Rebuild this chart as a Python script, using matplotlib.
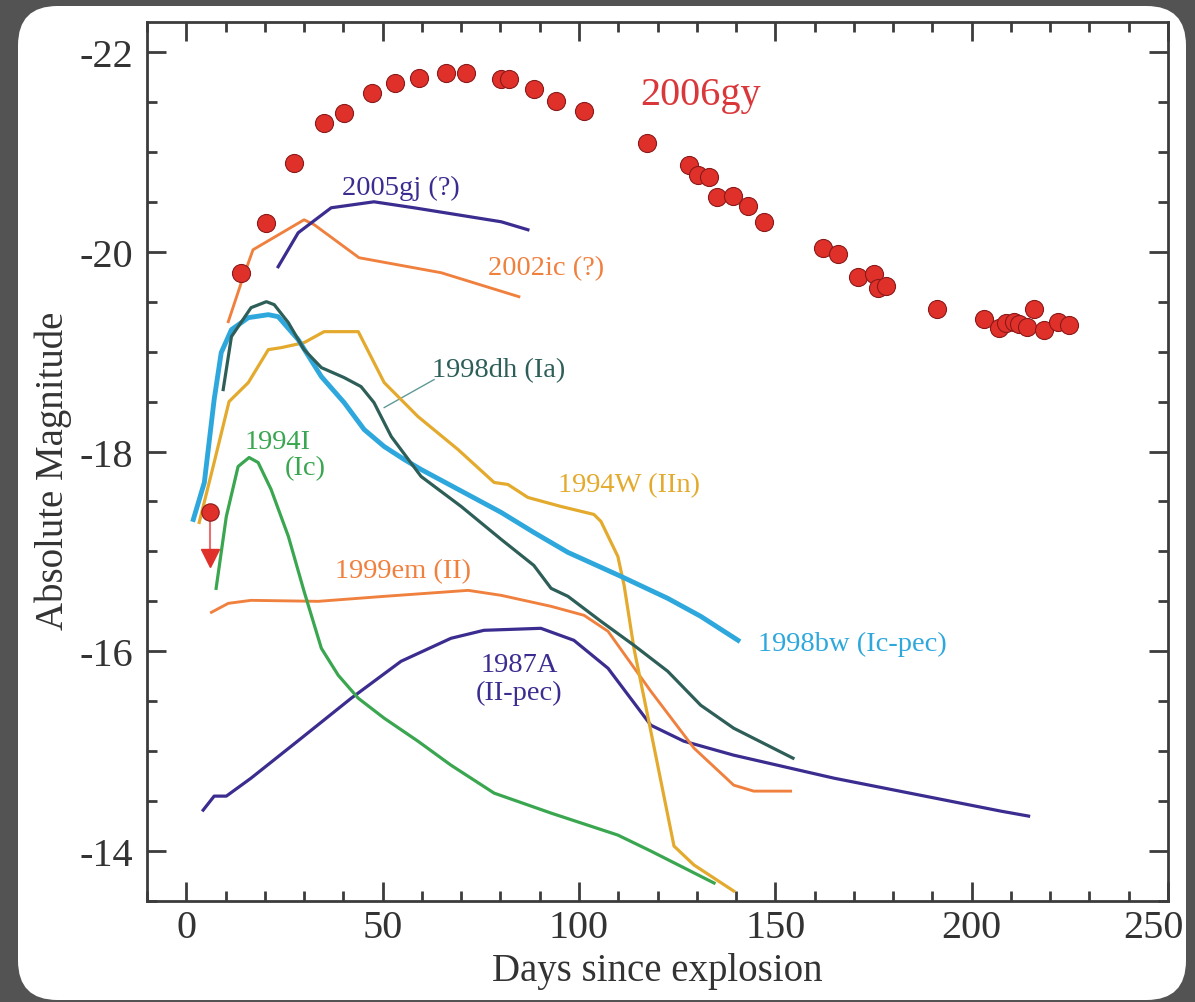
import matplotlib
matplotlib.use("Agg")
import matplotlib.pyplot as plt
import matplotlib.transforms as mtransforms
from matplotlib.patches import FancyBboxPatch
from matplotlib.ticker import MultipleLocator

# ---------------- data ----------------
sn2006gy_day = [14.0, 20.4, 27.5, 35.1, 40.2, 47.3, 53.2, 59.3, 66.2, 71.2, 80.2, 82.2,
                88.5, 94.1, 101.3, 117.3, 128.0, 130.3, 133.1, 135.1, 139.2, 143.0,
                147.1, 162.1, 165.9, 171.0, 175.1, 176.1, 178.1, 191.1, 203.1, 206.9,
                208.7, 210.7, 212.0, 214.2, 215.8, 218.3, 221.9, 224.7]
sn2006gy_mag = [-19.79, -20.29, -20.89, -21.29, -21.39, -21.59, -21.69, -21.74, -21.79,
                -21.79, -21.73, -21.73, -21.63, -21.51, -21.41, -21.09, -20.87, -20.77,
                -20.75, -20.55, -20.56, -20.46, -20.30, -20.04, -19.98, -19.75, -19.78,
                -19.64, -19.66, -19.43, -19.33, -19.24, -19.29, -19.30, -19.28, -19.25,
                -19.43, -19.22, -19.30, -19.27]
limit_day = 6.1
limit_mag = -17.39
limit_arrow_mag = -16.93

sn2005gj_day = [23.4, 28.5, 36.9, 47.8, 58.0, 80.2, 87.0]
sn2005gj_mag = [-19.85, -20.19, -20.44, -20.50, -20.44, -20.30, -20.22]

sn2002ic_day = [10.7, 14.0, 17.0, 30.0, 32.6, 44.0, 64.9, 84.7]
sn2002ic_mag = [-19.30, -19.69, -20.02, -20.32, -20.27, -19.94, -19.79, -19.55]

sn1998dh_day = [9.4, 11.5, 16.5, 20.4, 22.4, 26.0, 30.0, 34.4, 40.2, 44.5, 47.8, 52.2,
                59.8, 70.0, 80.2, 88.5, 92.9, 97.2, 105.6, 114.0, 122.6, 131.0, 139.4, 154.5]
sn1998dh_mag = [-18.62, -19.15, -19.44, -19.50, -19.47, -19.29, -19.02, -18.84, -18.74,
                -18.65, -18.49, -18.15, -17.75, -17.45, -17.12, -16.86, -16.63, -16.55,
                -16.30, -16.06, -15.80, -15.46, -15.23, -14.93]

sn1998bw_day = [1.8, 4.6, 7.1, 8.9, 11.5, 15.8, 20.9, 23.4, 28.5, 34.4, 40.2, 45.3, 50.4,
                55.5, 59.8, 80.2, 88.5, 97.2, 110.7, 122.6, 131.0, 140.5]
sn1998bw_mag = [-17.32, -17.69, -18.52, -18.99, -19.22, -19.34, -19.37, -19.35, -19.12,
                -18.75, -18.49, -18.22, -18.05, -17.92, -17.82, -17.39, -17.19, -16.99,
                -16.75, -16.53, -16.35, -16.11]

sn1994W_day = [3.3, 7.1, 10.9, 15.8, 20.9, 24.2, 30.0, 35.1, 43.8, 50.4, 59.0, 69.2, 78.4,
               81.9, 87.0, 95.4, 103.8, 105.6, 109.9, 111.5, 114.0, 118.3, 124.2, 129.3, 139.4]
sn1994W_mag = [-17.29, -17.89, -18.50, -18.69, -19.02, -19.04, -19.09, -19.20, -19.20,
               -18.69, -18.35, -18.02, -17.69, -17.67, -17.54, -17.45, -17.37, -17.30,
               -16.95, -16.66, -16.03, -15.20, -14.05, -13.86, -13.60]

sn1994I_day = [7.6, 10.2, 13.2, 16.0, 18.3, 21.6, 26.0, 30.0, 34.4, 38.7, 43.8, 50.4,
               59.0, 67.4, 78.4, 92.9, 109.9, 118.3, 134.4]
sn1994I_mag = [-16.63, -17.35, -17.85, -17.94, -17.89, -17.62, -17.15, -16.60, -16.03,
               -15.76, -15.53, -15.33, -15.10, -14.86, -14.58, -14.38, -14.16, -14.00, -13.68]

sn1999em_day = [6.4, 10.7, 16.5, 33.6, 50.4, 71.8, 80.2, 92.9, 101.3, 107.4, 118.3,
                129.3, 139.4, 144.5, 153.9]
sn1999em_mag = [-16.39, -16.48, -16.51, -16.50, -16.55, -16.61, -16.56, -16.45, -16.36,
                -16.20, -15.60, -15.03, -14.66, -14.60, -14.60]

sn1987A_day = [4.3, 7.1, 10.2, 16.5, 29.3, 42.0, 54.7, 67.4, 75.8, 90.3, 98.7, 107.4,
               118.3, 126.7, 139.4, 164.9, 207.4, 214.5]
sn1987A_mag = [-14.41, -14.55, -14.55, -14.73, -15.13, -15.53, -15.90, -16.13, -16.21,
               -16.23, -16.11, -15.83, -15.26, -15.10, -14.96, -14.73, -14.40, -14.35]

x_ticks = [0, 50, 100, 150, 200, 250]
y_ticks = [-22, -20, -18, -16, -14]

# ---------------- style ----------------
C_RED = "#e0302a"
C_INDIGO = "#3b2d90"
C_ORANGE = "#f0803e"
C_TEAL = "#2e5e58"
C_BLUE = "#2ea8dc"
C_GOLD = "#e3aa2e"
C_GREEN = "#3aa650"
SPINE = "#3c3c3c"
SERIF = ["Liberation Serif", "DejaVu Serif"]

plt.rcParams["font.family"] = SERIF

fig = plt.figure(figsize=(11.95, 10.03), dpi=100)
fig.patch.set_facecolor("#535353")

# white rounded card
card = FancyBboxPatch((18 / 1195, 2 / 1003), (1186 - 18) / 1195, (1003 - 7 - 2) / 1003,
                      boxstyle="round,pad=0,rounding_size=0.033",
                      transform=fig.transFigure, facecolor="white", edgecolor="none",
                      mutation_aspect=1195 / 1003, zorder=-5)
fig.patches.append(card)

ax = fig.add_axes([147 / 1195, 1 - 902 / 1003, (1168 - 147) / 1195, (902 - 23) / 1003])
ax.set_zorder(2)
ax.set_facecolor("white")
ax.set_xlim(-10, 250)
ax.set_ylim(-13.5, -22.3)

lw = 2.3
ax.plot(sn1987A_day, sn1987A_mag, color=C_INDIGO, lw=lw, zorder=3)
ax.plot(sn1999em_day, sn1999em_mag, color=C_ORANGE, lw=lw * 0.9, zorder=3)
ax.plot(sn1994I_day, sn1994I_mag, color=C_GREEN, lw=lw, zorder=3)
ax.plot(sn1994W_day, sn1994W_mag, color=C_GOLD, lw=lw, zorder=3)
ax.plot(sn1998bw_day, sn1998bw_mag, color=C_BLUE, lw=3.5, zorder=3)
ax.plot(sn1998dh_day, sn1998dh_mag, color=C_TEAL, lw=lw, zorder=4)
ax.plot(sn2002ic_day, sn2002ic_mag, color=C_ORANGE, lw=lw * 0.9, zorder=3)
ax.plot(sn2005gj_day, sn2005gj_mag, color=C_INDIGO, lw=lw, zorder=3)

# upper limit
ax.plot([limit_day, limit_day], [limit_mag, limit_arrow_mag], color="#e87070", lw=1.5, zorder=5)
ax.plot([limit_day], [limit_arrow_mag], marker="v", markersize=13, color=C_RED,
        markeredgecolor=C_RED, zorder=5)
ax.plot([limit_day], [limit_mag], "o", markersize=12.5, markerfacecolor=C_RED,
        markeredgecolor="#8a1a1a", markeredgewidth=0.8, zorder=6)

ax.plot(sn2006gy_day, sn2006gy_mag, "o", markersize=13, markerfacecolor=C_RED,
        markeredgecolor="#8a1a1a", markeredgewidth=0.8, zorder=6, linestyle="none")

# labels
fs = 20.5
ax.text(131, -21.57, "2006gy", color="#d9373a", fontsize=29, ha="center", va="center")
ax.text(54.7, -20.64, "2005gj (?)", color=C_INDIGO, fontsize=fs, ha="center", va="center")
ax.text(91.6, -19.84, "2002ic (?)", color=C_ORANGE, fontsize=fs, ha="center", va="center")
ax.text(79.6, -18.82, "1998dh (Ia)", color=C_TEAL, fontsize=fs, ha="center", va="center")
ax.plot([50.4, 63.1], [-18.44, -18.72], color="#5e9a96", lw=1.0, zorder=2)
ax.text(23.2, -18.10, "1994I", color=C_GREEN, fontsize=fs, ha="center", va="center")
ax.text(30.3, -17.84, "(Ic)", color=C_GREEN, fontsize=fs, ha="center", va="center")
ax.text(112.7, -17.67, "1994W (IIn)", color=C_GOLD, fontsize=fs, ha="center", va="center")
ax.text(55.2, -16.81, "1999em (II)", color=C_ORANGE, fontsize=fs, ha="center", va="center")
ax.text(169.7, -16.08, "1998bw (Ic-pec)", color=C_BLUE, fontsize=fs, ha="center", va="center")
ax.text(84.7, -15.87, "1987A", color=C_INDIGO, fontsize=fs, ha="center", va="center")
ax.text(84.7, -15.59, "(II-pec)", color=C_INDIGO, fontsize=fs, ha="center", va="center")

# axes styling
for s in ax.spines.values():
    s.set_color(SPINE)
    s.set_linewidth(2.0)
ax.set_xticks(x_ticks)
ax.set_yticks(y_ticks)
ax.set_xticklabels([str(v) for v in x_ticks])
ax.set_yticklabels([str(v) for v in y_ticks])
ax.xaxis.set_minor_locator(MultipleLocator(10))
ax.yaxis.set_minor_locator(MultipleLocator(0.5))
ax.tick_params(which="both", direction="in", top=True, right=True, color=SPINE,
               width=2.0, labelsize=29, labelcolor="#333333")
ax.tick_params(which="major", length=14, pad=10)
ax.tick_params(which="minor", length=7)
ax.tick_params(axis="x", which="major", pad=6)
# last x tick label sits slightly left of its tick, as in the reference
last = ax.get_xticklabels()[-1]
last.set_transform(last.get_transform() +
                   mtransforms.ScaledTranslation(-0.15, 0, fig.dpi_scale_trans))
ax.set_xlabel("Days since explosion", fontsize=28, color="#333333")
ax.set_ylabel("Absolute Magnitude", fontsize=28, color="#333333")
ax.xaxis.set_label_coords(0.5, -0.058)
ax.yaxis.set_label_coords(-0.073, 0.49)

fig.savefig("out.png", dpi=100, facecolor=fig.get_facecolor())
